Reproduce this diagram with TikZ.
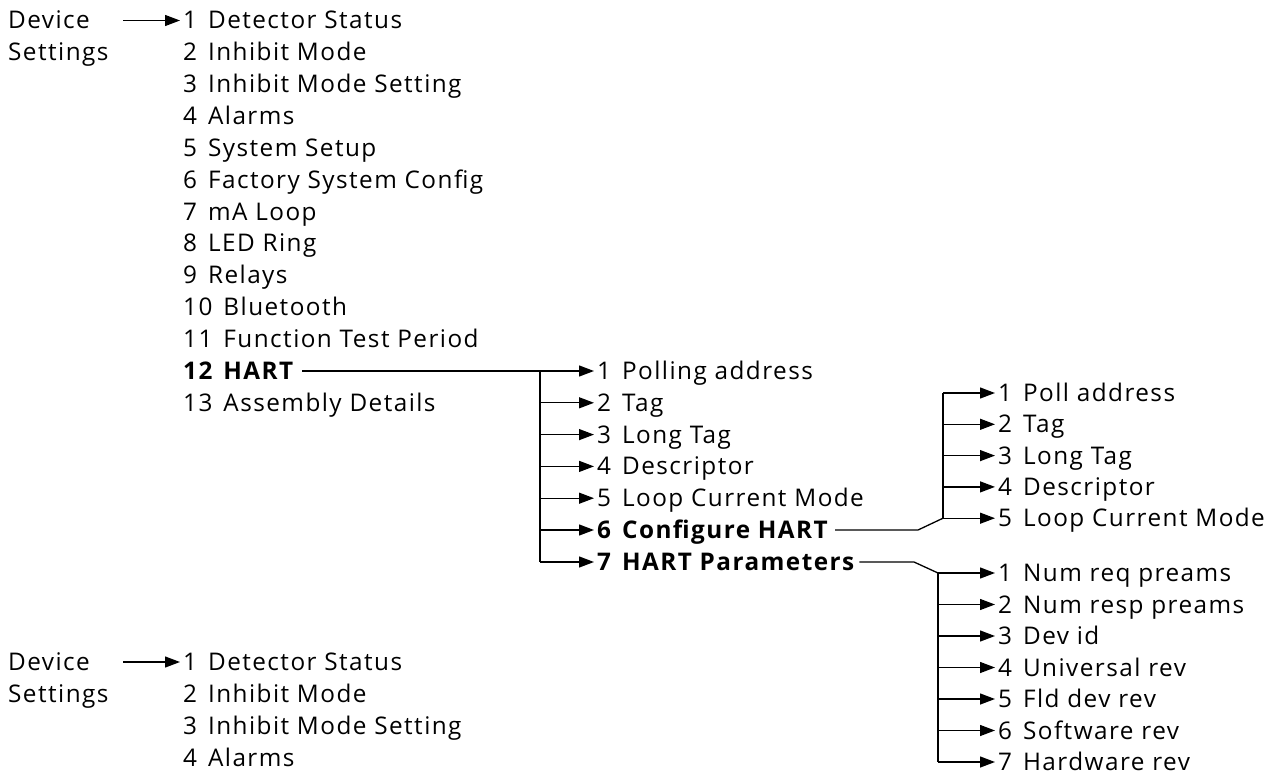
\documentclass[tikz,border=0pt]{standalone}
\usepackage{fontspec}
\setmainfont[LetterSpace=6]{Open Sans}
\usetikzlibrary{arrows.meta,calc}
\newcommand{\itm}[2]{#1\hspace{11pt}#2}
\begin{document}
\begin{tikzpicture}[x=1pt,y=-1pt,
  txt/.style={anchor=west,inner sep=0pt,text height=17pt,text depth=0pt,font=\fontsize{24.3}{28}\selectfont},
  bld/.style={txt,font=\fontsize{24.3}{28}\selectfont\bfseries},
  ln/.style={line width=1.3pt},
  arr/.style={ln,-{Triangle[length=15pt,width=11pt]},shorten >=3pt}]
\useasboundingbox (0,0) rectangle (1280,776);
% top block
\node[txt] (dA) at (8,20.5) {Device};
\node[txt] (dB) at (8,52) {Settings};
\foreach \n/\t [count=\i] in {1/Detector Status,2/Inhibit Mode,3/Inhibit Mode Setting,4/Alarms,5/System Setup,6/Factory System Config,7/mA Loop,8/LED Ring,9/Relays,10/Bluetooth,11/Function Test Period}
  \node[txt] (m\i) at (183,{20.5+(\i-1)*31.85}) {\itm{\n}{\t}};
\node[bld] (m12) at (183,371) {\itm{12}{HART}};
\node[txt] (m13) at (183,403) {\itm{13}{Assembly Details}};
\coordinate (s1) at (123,20.5);
\draw[arr] (s1) -- (m1.west);
% HART submenu
\foreach \n/\t [count=\i] in {1/Polling address,2/Tag,3/Long Tag,4/Descriptor,5/Loop Current Mode}
  \node[txt] (h\i) at (597,{371+(\i-1)*31.8}) {\itm{\n}{\t}};
\node[bld] (h6) at (597,530) {\itm{6}{Configure HART}};
\node[bld] (h7) at (597,562) {\itm{7}{HART Parameters}};
\coordinate (bx) at (540,0);
\draw[arr] ([xshift=9pt]m12.east) -- (h1.west);
\draw[ln] (h1.west -| bx) -- (h7.west -| bx);
\foreach \i in {2,...,7} \draw[arr] (h\i.west -| bx) -- (h\i.west);
% Configure HART submenu
\foreach \n/\t [count=\i] in {1/Poll address,2/Tag,3/Long Tag,4/Descriptor,5/Loop Current Mode}
  \node[txt] (c\i) at (998,{393+(\i-1)*31.3}) {\itm{\n}{\t}};
\coordinate (cx) at (943,0);
\coordinate (ck) at (918,0);
\draw[ln] ([xshift=7pt]h6.east) -- (h6.west -| ck) -- (c5.west -| cx);
\draw[ln] (c1.west -| cx) -- (c5.west -| cx);
\foreach \i in {1,...,5} \draw[arr] (c\i.west -| cx) -- (c\i.west);
% HART Parameters submenu
\foreach \n/\t [count=\i] in {1/Num req preams,2/Num resp preams,3/Dev id,4/Universal rev,5/Fld dev rev,6/Software rev,7/Hardware rev}
  \node[txt] (p\i) at (998,{573+(\i-1)*31.5}) {\itm{\n}{\t}};
\coordinate (px) at (938,0);
\coordinate (pk) at (914,0);
\draw[ln] ([xshift=5pt]h7.east) -- (h7.west -| pk) -- (p1.west -| px);
\draw[ln] (p1.west -| px) -- (p7.west -| px);
\foreach \i in {1,...,7} \draw[arr] (p\i.west -| px) -- (p\i.west);
% bottom block
\node[txt] (eA) at (8,662) {Device};
\node[txt] (eB) at (8,694) {Settings};
\foreach \n/\t [count=\i] in {1/Detector Status,2/Inhibit Mode,3/Inhibit Mode Setting,4/Alarms}
  \node[txt] (n\i) at (183,{662+(\i-1)*32}) {\itm{\n}{\t}};
\coordinate (s2) at (123,662);
\draw[arr] (s2) -- (n1.west);
\end{tikzpicture}
\end{document}
